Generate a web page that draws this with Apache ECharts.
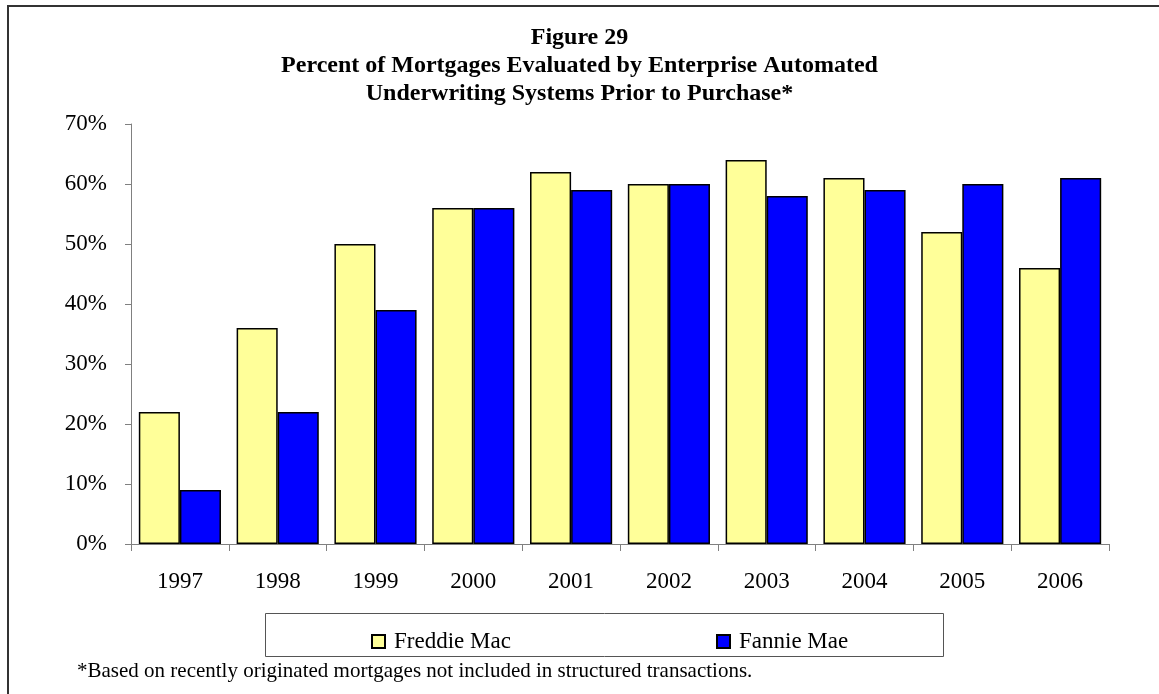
<!DOCTYPE html>
<html>
<head>
<meta charset="utf-8">
<script src="https://cdn.jsdelivr.net/npm/echarts@6/dist/echarts.min.js"></script>
<style>
  html, body { margin: 0; padding: 0; background: #fff; }
  #chart { width: 1159px; height: 694px; }
</style>
</head>
<body>
<div id="chart"></div>
<script>
// 数据
const years = ['1997', '1998', '1999', '2000', '2001', '2002', '2003', '2004', '2005', '2006']
const freddieMac = [22, 36, 50, 56, 62, 60, 64, 61, 52, 46]
const fannieMae = [9, 22, 39, 56, 59, 60, 58, 59, 60, 61]
const yTicks = [0, 10, 20, 30, 40, 50, 60, 70]

const serif = '"Liberation Serif", "Times New Roman", serif'
const chart = echarts.init(document.getElementById('chart'))

const option = {
  backgroundColor: '#fff',
  animation: false,
  title: {
    text: 'Figure 29\nPercent of Mortgages Evaluated by Enterprise Automated\nUnderwriting Systems Prior to Purchase*',
    left: 'center',
    top: 19,
    textStyle: {
      fontFamily: serif,
      fontWeight: 'bold',
      fontSize: 24,
      lineHeight: 28,
      color: '#000'
    }
  },
  legend: [
    {
      data: ['Freddie Mac'],
      left: 366,
      top: 625,
      icon: 'rect',
      itemWidth: 13,
      itemHeight: 13,
      textStyle: { fontFamily: serif, fontSize: 23, color: '#000', padding: [0, 0, 0, 4] }
    },
    {
      data: ['Fannie Mae'],
      left: 711,
      top: 625,
      icon: 'rect',
      itemWidth: 13,
      itemHeight: 13,
      textStyle: { fontFamily: serif, fontSize: 23, color: '#000', padding: [0, 0, 0, 4] }
    }
  ],
  grid: {
    left: 131,
    right: 50,
    top: 124,
    bottom: 150
  },
  xAxis: {
    type: 'category',
    data: years,
    axisLine: { lineStyle: { color: '#808080', width: 1 } },
    axisTick: { show: true, length: 7, lineStyle: { color: '#808080' } },
    axisLabel: { color: '#000', fontFamily: serif, fontSize: 23, margin: 26 }
  },
  yAxis: {
    type: 'value',
    min: yTicks[0],
    max: yTicks[yTicks.length - 1],
    interval: 10,
    axisLine: { show: true, lineStyle: { color: '#808080', width: 1 } },
    axisTick: { show: true, length: 6, lineStyle: { color: '#808080' } },
    splitLine: { show: false },
    axisLabel: {
      color: '#000',
      fontFamily: serif,
      fontSize: 23,
      margin: 24,
      formatter: '{value}%'
    }
  },
  series: [
    {
      name: 'Freddie Mac',
      type: 'bar',
      data: freddieMac,
      barGap: '0%',
      barCategoryGap: '16%',
      itemStyle: { color: '#FFFF99', borderColor: '#000', borderWidth: 1.5 }
    },
    {
      name: 'Fannie Mae',
      type: 'bar',
      data: fannieMae,
      itemStyle: { color: '#0000FF', borderColor: '#000', borderWidth: 1.5 }
    }
  ],
  graphic: [
    // 外框（只有上边和左边可见）
    {
      type: 'polyline',
      silent: true,
      shape: { points: [[8, 694], [8, 6], [1159, 6]] },
      style: { stroke: '#333', lineWidth: 2, fill: null }
    },
    // 图例框
    {
      type: 'rect',
      silent: true,
      shape: { x: 265.5, y: 613.5, width: 678, height: 43 },
      style: { stroke: '#555', lineWidth: 1, fill: null },
      z: -1
    },
    // 脚注
    {
      type: 'text',
      silent: true,
      left: 77,
      top: 661,
      style: {
        text: '*Based on recently originated mortgages not included in structured transactions.',
        fontFamily: serif,
        fontSize: 21,
        fill: '#000'
      }
    }
  ]
}

chart.setOption(option)
</script>
</body>
</html>
